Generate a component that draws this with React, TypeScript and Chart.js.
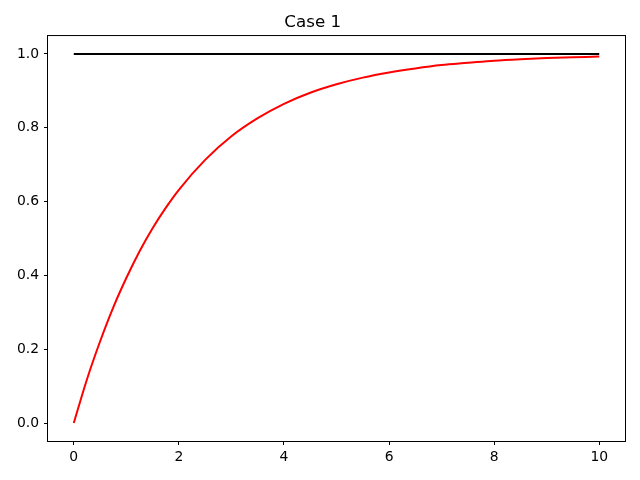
import React, { useEffect, useRef } from "react";
import { Chart, registerables } from "chart.js";

Chart.register(...registerables);

const TITLE = "Case 1";
const curveX = [0, 0.25, 0.5, 0.75, 1, 1.25, 1.5, 1.75, 2, 2.5, 3, 3.5, 4, 4.5, 5, 5.5, 6, 6.5, 7, 7.5, 8, 8.5, 9, 9.5, 10];
const curveY = [0, 0.118, 0.221, 0.313, 0.393, 0.465, 0.528, 0.583, 0.632, 0.713, 0.777, 0.826, 0.865, 0.895, 0.918, 0.936, 0.95, 0.961, 0.97, 0.976, 0.982, 0.986, 0.989, 0.991, 0.993];
const refX = [0, 10];
const refY = [1, 1];
const xTicks = [0, 2, 4, 6, 8, 10];
const yTicks = [0, 0.2, 0.4, 0.6, 0.8, 1.0];

const FONT = "'DejaVu Sans', sans-serif";

const boxPlugin = {
  id: "box",
  afterDraw(chart: any) {
    const { ctx, chartArea } = chart;
    ctx.save();
    ctx.strokeStyle = "#000";
    ctx.lineWidth = 1;
    ctx.strokeRect(chartArea.left, chartArea.top, chartArea.right - chartArea.left, chartArea.bottom - chartArea.top);
    ctx.restore();
  },
};

export default function App() {
  const ref = useRef<HTMLCanvasElement>(null);
  useEffect(() => {
    if (!ref.current) return;
    const chart = new Chart(ref.current, {
      type: "line",
      data: {
        datasets: [
          {
            data: curveX.map((x, i) => ({ x, y: curveY[i] })),
            borderColor: "#ff0000",
            borderWidth: 2,
            pointRadius: 0,
            cubicInterpolationMode: "monotone",
            fill: false,
          },
          {
            data: refX.map((x, i) => ({ x, y: refY[i] })),
            borderColor: "#000000",
            borderWidth: 2,
            pointRadius: 0,
            fill: false,
          },
        ],
      },
      options: {
        animation: false,
        responsive: false,
        devicePixelRatio: 1,
        layout: { padding: { top: 0, right: 14.5, bottom: 0, left: 0 } },
        plugins: {
          legend: { display: false },
          tooltip: { enabled: false },
          title: {
            display: true,
            text: TITLE,
            color: "#000",
            font: { family: FONT, size: 16.7, weight: "normal", lineHeight: 1.2 },
            padding: { top: 13, bottom: 2.5 },
          },
        },
        scales: {
          x: {
            type: "linear",
            min: -0.5,
            max: 10.5,
            afterBuildTicks: (s: any) => {
              s.ticks = xTicks.map((v) => ({ value: v }));
            },
            afterFit: (s: any) => {
              s.height = 38.5;
            },
            ticks: {
              color: "#000",
              font: { family: FONT, size: 13.9 },
              padding: 4,
              maxRotation: 0,
              callback: (v: any) => String(v),
            },
            grid: { display: true, drawOnChartArea: false, drawTicks: true, tickLength: 3.5, color: "#000" },
            border: { display: true, color: "#000", width: 1 },
          },
          y: {
            type: "linear",
            min: -0.05,
            max: 1.05,
            afterBuildTicks: (s: any) => {
              s.ticks = yTicks.map((v) => ({ value: v }));
            },
            afterFit: (s: any) => {
              s.width = 47.5;
            },
            ticks: {
              color: "#000",
              font: { family: FONT, size: 13.9 },
              padding: 5,
              callback: (v: any) => Number(v).toFixed(1),
            },
            grid: { display: true, drawOnChartArea: false, drawTicks: true, tickLength: 3.5, color: "#000" },
            border: { display: true, color: "#000", width: 1 },
          },
        },
      },
      plugins: [boxPlugin],
    } as any);
    return () => chart.destroy();
  }, []);
  return (
    <div style={{ position: "fixed", left: 0, top: 0, width: 640, height: 480, background: "#fff" }}>
      <canvas ref={ref} width={640} height={480} style={{ width: 640, height: 480 }} />
    </div>
  );
}
